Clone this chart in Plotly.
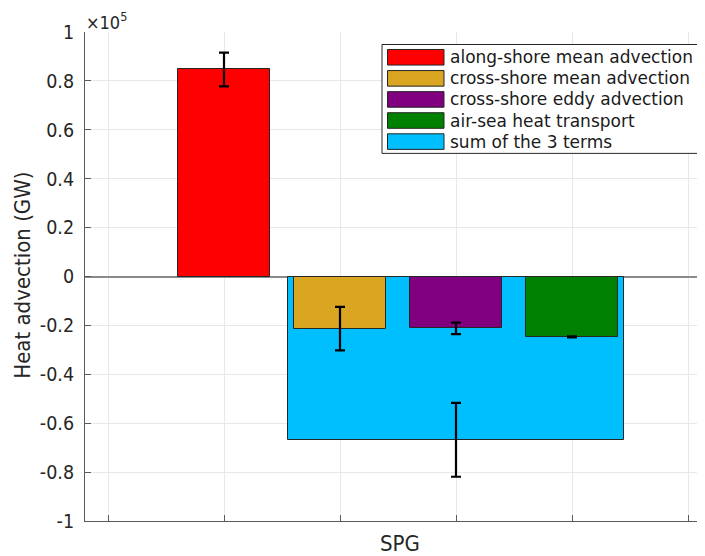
import plotly.graph_objects as go

# ---- data ----
series_names = ["along-shore mean advection", "cross-shore mean advection",
                "cross-shore eddy advection", "air-sea heat transport",
                "sum of the 3 terms"]
series_colors = ["#ff0000", "#daa520", "#800080", "#008000", "#00bfff"]
bar_x = [1, 2, 3, 4, 3]
bar_width = [0.8, 0.8, 0.8, 0.8, 2.9]
values = [84700, -21300, -21200, -24700, -66800]      # GW
errors = [6900, 8900, 2350, 250, 15100]               # GW
x_category = "SPG"
ytick_vals = [-100000, -80000, -60000, -40000, -20000, 0,
              20000, 40000, 60000, 80000, 100000]
ytick_text = ["-1", "-0.8", "-0.6", "-0.4", "-0.2", "0",
              "0.2", "0.4", "0.6", "0.8", "1"]
xtick_vals = [0, 1, 2, 3, 4, 5]
y_title = "Heat advection (GW)"
exponent_label = "×10<sup>5</sup>"

# ---- layout constants (page pixels; page body has an 8px margin) ----
OFF = 8
W, H = 705, 556
PL, PT, PB, PR = 85, 32, 521.5, 713          # plot area edges in page pixels
L, T = PL - OFF, PT - OFF
B = H - (PB - OFF)
R = W - (PR - OFF)
pw, ph = W - L - R, H - T - B

def px2x(px):
    return (px - OFF - L) / pw

def py2y(py):
    return (H - B - (py - OFF)) / ph

FONT_AX = "DejaVu Sans Condensed, DejaVu Sans, sans-serif"
FONT_LG = "DejaVu Sans, sans-serif"

fig = go.Figure()

# draw the wide "sum" bar first so the individual terms sit on top of it
order = [4, 0, 1, 2, 3]
for i in order:
    fig.add_trace(go.Bar(
        x=[bar_x[i]], y=[values[i]], width=[bar_width[i]],
        name=series_names[i],
        marker=dict(color=series_colors[i], line=dict(color="#262626", width=1)),
        error_y=dict(type="data", array=[errors[i]], visible=True,
                     color="black", thickness=2.2, width=5),
        showlegend=False,
    ))

# custom legend with wide swatches (MATLAB style)
box_x0, box_x1, box_y0, box_y1 = 382, 700, 44.5, 153.5
fig.add_shape(type="rect", xref="paper", yref="paper",
              x0=px2x(box_x0), x1=px2x(box_x1), y0=py2y(box_y1), y1=py2y(box_y0),
              fillcolor="white", line=dict(color="#262626", width=1), layer="above")
row0, row_step = 57.3, 21.1
for k, (nm, col) in enumerate(zip(series_names, series_colors)):
    cy = row0 + k * row_step
    fig.add_shape(type="rect", xref="paper", yref="paper",
                  x0=px2x(387.5), x1=px2x(444), y0=py2y(cy + 7.8), y1=py2y(cy - 7.8),
                  fillcolor=col, line=dict(color="#262626", width=1), layer="above")
    fig.add_annotation(xref="paper", yref="paper", x=px2x(448), y=py2y(cy),
                       text=nm, showarrow=False, xanchor="left", yanchor="middle",
                       font=dict(family=FONT_LG, size=17, color="#1a1a1a"))

# y-axis title, exponent and x category label
fig.add_annotation(xref="paper", yref="paper", x=px2x(23), y=py2y(276),
                   text=y_title, textangle=-90, showarrow=False,
                   xanchor="center", yanchor="middle",
                   font=dict(family=FONT_AX, size=22, color="#262626"))
fig.add_annotation(xref="paper", yref="paper", x=px2x(84), y=py2y(35),
                   text=exponent_label, showarrow=False,
                   xanchor="left", yanchor="bottom",
                   font=dict(family=FONT_AX, size=18, color="#262626"))
fig.add_annotation(xref="paper", yref="paper", x=px2x(400), y=py2y(544),
                   text=x_category, showarrow=False,
                   xanchor="center", yanchor="middle",
                   font=dict(family=FONT_AX, size=22, color="#262626"))

fig.update_layout(
    width=W, height=H,
    margin=dict(l=L, r=R, t=T, b=B, pad=0),
    paper_bgcolor="white", plot_bgcolor="white",
    barmode="overlay", bargap=0,
    showlegend=False,
    xaxis=dict(range=[(PL - 108) / 116, (PR - 108) / 116],
               tickvals=xtick_vals, showticklabels=False,
               ticks="inside", ticklen=6, tickcolor="#5a5a5a", tickwidth=1,
               showgrid=True, gridcolor="#e8e8e8", gridwidth=1,
               showline=True, linecolor="#5a5a5a", linewidth=1,
               zeroline=False, fixedrange=True),
    yaxis=dict(range=[-100000, 100000],
               tickvals=ytick_vals, ticktext=ytick_text,
               ticks="inside", ticklen=6, tickcolor="#5a5a5a", tickwidth=1,
               ticklabelstandoff=6,
               tickfont=dict(family=FONT_AX, size=19.5, color="#262626"),
               showgrid=True, gridcolor="#e8e8e8", gridwidth=1,
               showline=True, linecolor="#5a5a5a", linewidth=1,
               zeroline=True, zerolinecolor="#8a8a8a", zerolinewidth=1.5,
               fixedrange=True),
)

fig.write_html("out.html")
